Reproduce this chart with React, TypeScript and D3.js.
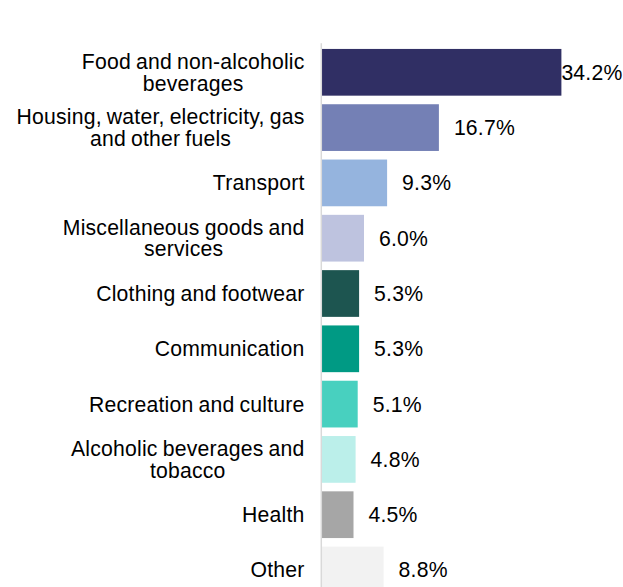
// @ts-nocheck

import React, { useEffect, useRef } from "react";
import * as d3 from "d3";

const categories = [
  "Food and non-alcoholic beverages",
  "Housing, water, electricity, gas and other fuels",
  "Transport",
  "Miscellaneous goods and services",
  "Clothing and footwear",
  "Communication",
  "Recreation and culture",
  "Alcoholic beverages and tobacco",
  "Health",
  "Other",
];

const shares = [34.2, 16.7, 9.3, 6.0, 5.3, 5.3, 5.1, 4.8, 4.5, 8.8];

const barColors = [
  "#302F64",
  "#7480B5",
  "#95B4DE",
  "#BEC3DF",
  "#1D5550",
  "#009A84",
  "#48D0BF",
  "#BBEFEA",
  "#A6A6A6",
  "#F2F2F2",
];

function App() {
  const ref = useRef(null);

  useEffect(() => {
    const width = 623,
      height = 587;
    const font = "'Liberation Sans', Arial, sans-serif";
    const fontSize = 21.2;
    const spacing = "0.2px";

    const svg = d3.select(ref.current);
    svg.selectAll("*").remove();

    const data = categories.map((c, i) => ({
      name: c,
      value: shares[i],
      color: barColors[i],
    }));

    // 7px per percentage point, bars start right of the axis line
    const x = d3.scaleLinear().domain([0, 40]).range([322, 602]);
    const y = d3
      .scaleBand()
      .domain(categories)
      .range([44.65, 597.65])
      .paddingInner(0.155)
      .paddingOuter(0.0775);

    // bars
    svg
      .append("g")
      .selectAll("rect")
      .data(data)
      .enter()
      .append("rect")
      .attr("x", x(0))
      .attr("y", (d) => y(d.name))
      .attr("width", (d) => x(d.value) - x(0))
      .attr("height", y.bandwidth())
      .attr("fill", (d) => d.color);

    // axis line
    svg
      .append("line")
      .attr("x1", 321.3)
      .attr("x2", 321.3)
      .attr("y1", 43.3)
      .attr("y2", height)
      .attr("stroke", "#D9D9D9")
      .attr("stroke-width", 1.5);

    // category labels, wrapped and centred on the longest line
    const labelRight = 304.5;
    const maxWidth = 300;
    const lineHeight = 21.7;
    const labels = svg
      .append("g")
      .style("font-family", font)
      .style("font-size", fontSize + "px")
      .style("letter-spacing", spacing)
      .style("word-spacing", "-1px")
      .attr("fill", "#000");

    data.forEach((d) => {
      const cy = y(d.name) + y.bandwidth() / 2;
      const probe = labels.append("text");
      const words = d.name.split(" ");
      const lines = [];
      let cur = "";
      words.forEach((w) => {
        const test = cur ? cur + " " + w : w;
        probe.text(test);
        if (cur && probe.node().getComputedTextLength() > maxWidth) {
          lines.push(cur);
          cur = w;
        } else {
          cur = test;
        }
      });
      lines.push(cur);
      const widths = lines.map((l) => {
        probe.text(l);
        return probe.node().getComputedTextLength();
      });
      probe.remove();
      const blockW = d3.max(widths);
      const centerX = labelRight - blockW / 2;
      const top = cy - ((lines.length - 1) * lineHeight) / 2;
      lines.forEach((l, k) => {
        labels
          .append("text")
          .attr("x", centerX)
          .attr("y", top + k * lineHeight)
          .attr("dy", "0.35em")
          .attr("text-anchor", "middle")
          .text(l);
      });
    });

    // value labels
    const values = svg
      .append("g")
      .style("font-family", font)
      .style("font-size", fontSize + "px")
      .style("letter-spacing", spacing)
      .attr("fill", "#000");
    data.forEach((d) => {
      const t = values
        .append("text")
        .attr("y", y(d.name) + y.bandwidth() / 2)
        .attr("dy", "0.35em")
        .text(d.value.toFixed(1) + "%");
      const w = t.node().getComputedTextLength();
      let tx = x(d.value) + 15;
      if (tx + w > width - 2) tx = x(d.value);
      t.attr("x", tx);
    });
  }, []);

  return (
    <div style={{ position: "absolute", left: 0, top: 0 }}>
      <svg ref={ref} width={623} height={587} style={{ display: "block", background: "#fff" }} />
    </div>
  );
}

export default App;
